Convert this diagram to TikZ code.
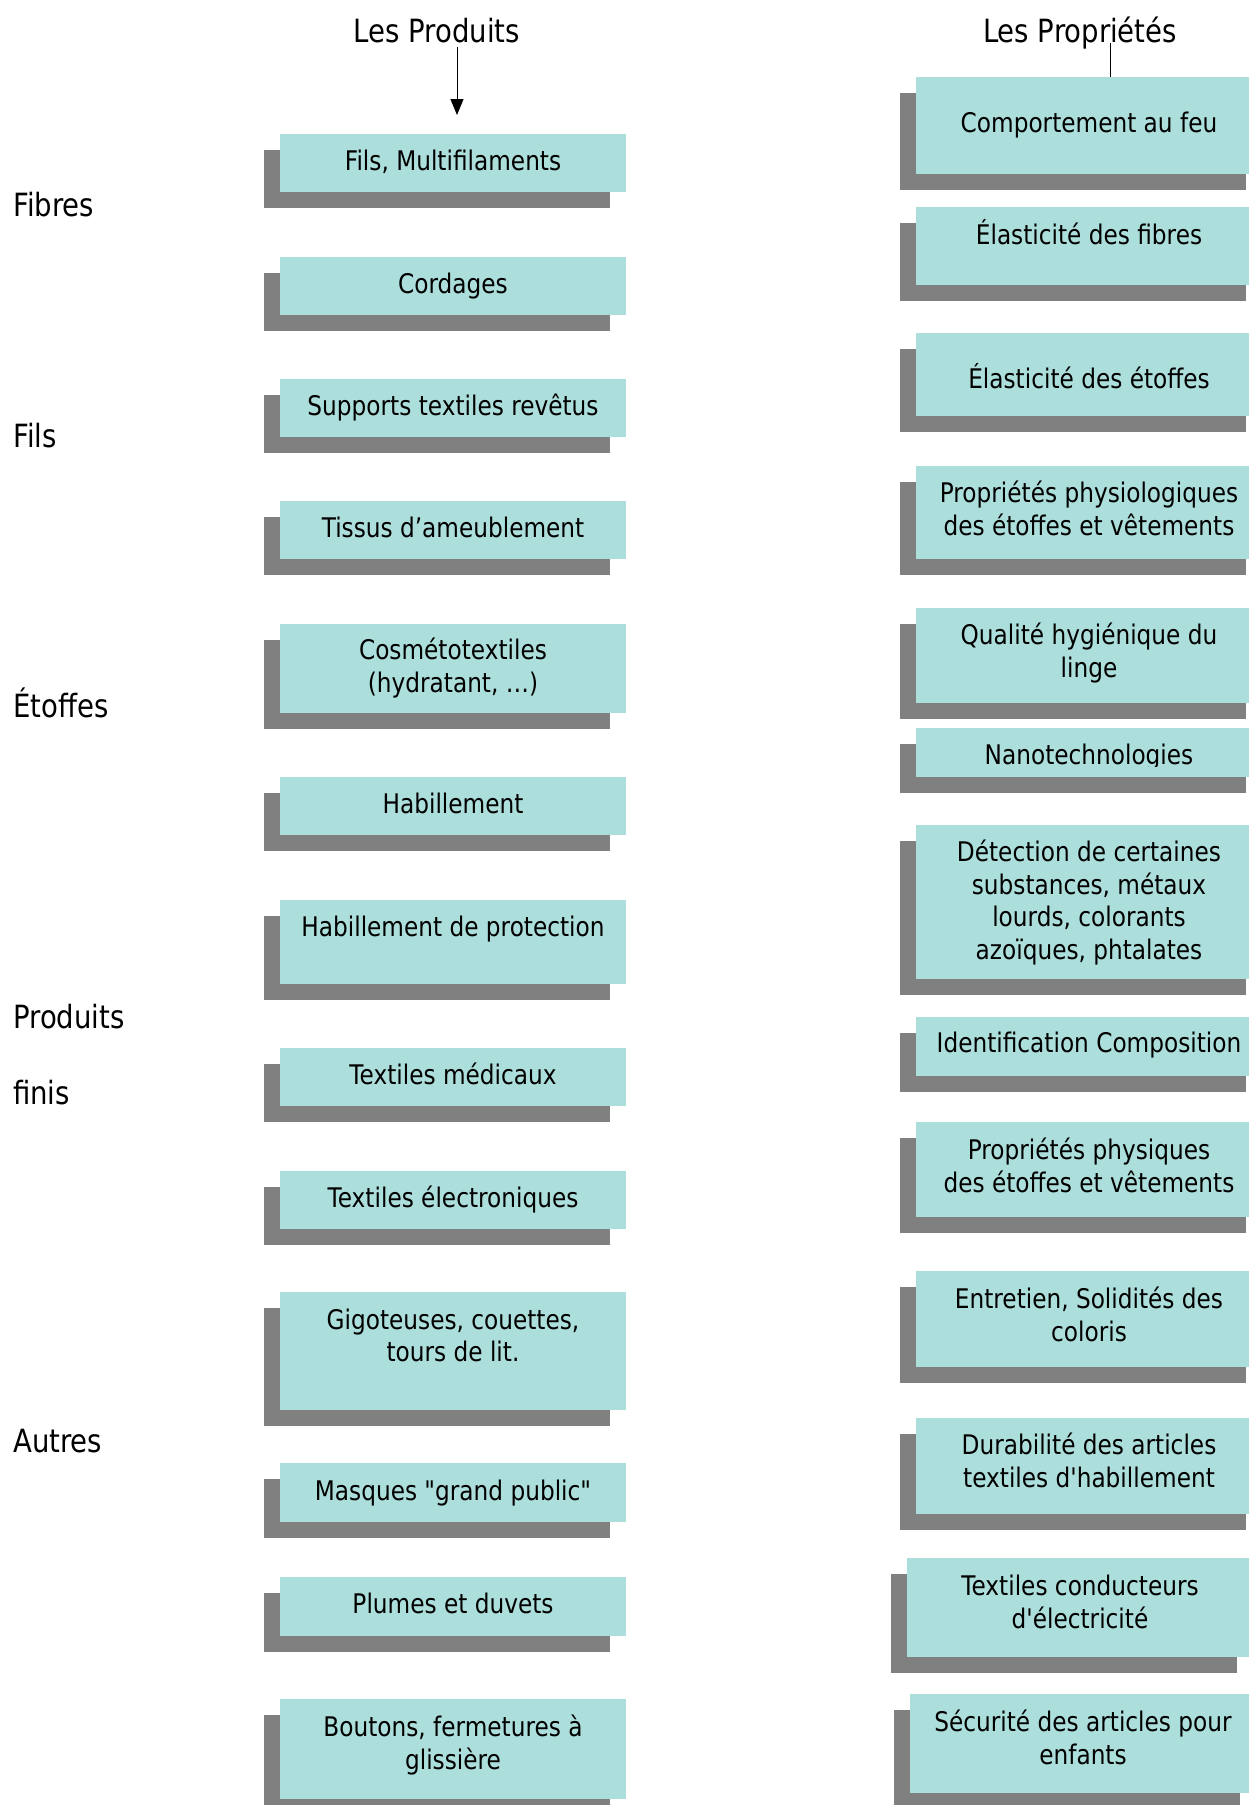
\documentclass[tikz,border=0pt]{standalone}
\usepackage{fontspec}
\newfontfamily\diagfont{DejaVu Sans}[FakeStretch=0.86]
\usetikzlibrary{arrows.meta}
\definecolor{tealfill}{RGB}{172,222,219}
\definecolor{shadowgray}{RGB}{128,128,128}
\tikzset{
  boxshadow/.style={fill=shadowgray},
  tealbox/.style={rectangle, fill=tealfill, draw=none, inner sep=0pt, outer sep=0pt, anchor=north west},
  boxtext/.style={align=center, inner sep=0pt, anchor=base, font=\diagfont\fontsize{27}{32.5}\selectfont},
  cattext/.style={inner sep=0pt, anchor=base west, font=\diagfont\fontsize{32}{38}\selectfont},
  headtext/.style={inner sep=0pt, anchor=base, font=\diagfont\fontsize{32}{38}\selectfont},
  connector/.style={line width=1pt, draw=black},
}
% name, xleft, top, bottom, baseline of LAST line, text
\newcommand\pbox[6]{%
  \fill[boxshadow] (#2-16,#3+16) rectangle (#2+330,#4+16);
  \pgfmathsetmacro\myboxh{#4-#3}
  \node[tealbox, minimum width=346pt, minimum height=\myboxh pt] (#1) at (#2,#3) {};
  \node[boxtext] (#1t) at (#2+173,#5) {#6};
}
\begin{document}
\begin{tikzpicture}[x=1pt,y=-1pt]
\useasboundingbox (0,0) rectangle (1249,1805);
\clip (0,0) rectangle (1249,1805);
\fill[white] (0,0) rectangle (1249,1805);

% headers
\node[headtext] (hprod) at (437,42) {Les Produits};
\node[headtext] (hprop) at (1080,42) {Les Propriétés};

% categories
\node[cattext] (cfib) at (13,216) {Fibres};
\node[cattext] (cfil) at (13,447) {Fils};
\node[cattext] (cetof) at (13,717) {Étoffes};
\node[cattext] (cprod) at (13,1028) {Produits};
\node[cattext] (cfin) at (13,1104) {finis};
\node[cattext] (caut) at (13,1452) {Autres};

% left column
\pbox{p1}{280}{133.5}{192}{170}{Fils, Multifilaments}
\pbox{p2}{280}{257}{315}{293}{Cordages}
\pbox{p3}{280}{379}{437}{415.5}{Supports textiles revêtus}
\pbox{p4}{280}{501}{559}{537.5}{Tissus d’ameublement}
\pbox{p5}{280}{624}{713}{692}{Cosmétotextiles\\(hydratant, …)}
\pbox{p6}{280}{777}{835}{813.5}{Habillement}
\pbox{p7}{280}{900}{984}{936.5}{Habillement de protection}
\pbox{p8}{280}{1048}{1106}{1084.5}{Textiles médicaux}
\pbox{p9}{280}{1171}{1229}{1207.5}{Textiles électroniques}
\pbox{p10}{280}{1292}{1410}{1361.5}{Gigoteuses, couettes,\\tours de lit.}
\pbox{p11}{280}{1463}{1522}{1500.5}{Masques "grand public"}
\pbox{p12}{280}{1577}{1636}{1613.5}{Plumes et duvets}
\pbox{p13}{280}{1699}{1799}{1769}{Boutons, fermetures à\\glissière}

% right column
\pbox{r1}{916}{77}{174}{132.5}{Comportement au feu}
\pbox{r2}{916}{207}{285}{244.5}{Élasticité des fibres}
\pbox{r3}{916}{333}{416}{388.5}{Élasticité des étoffes}
\pbox{r4}{916}{466}{559}{535}{Propriétés physiologiques\\des étoffes et vêtements}
\pbox{r5}{916}{608}{703}{677}{Qualité hygiénique du\\linge}
% Nanotechnologies (text clipped at the bottom)
\fill[boxshadow] (900,744) rectangle (1246,793);
\node[tealbox, minimum width=346pt, minimum height=49pt] (r6) at (916,728) {};
\begin{scope}
  \clip (916,728) rectangle (1262,766);
  \node[boxtext] (r6t) at (1089,764) {Nanotechnologies};
\end{scope}
\pbox{r7}{916}{825}{979}{959}{Détection de certaines\\substances, métaux\\lourds, colorants\\azoïques, phtalates}
\pbox{r8}{916}{1017}{1076}{1052.5}{Identification Composition}
\pbox{r9}{916}{1122}{1217}{1192}{Propriétés physiques\\des étoffes et vêtements}
\pbox{r10}{916}{1271}{1367}{1341}{Entretien, Solidités des\\coloris}
\pbox{r11}{916}{1418}{1514}{1487}{Durabilité des articles\\textiles d'habillement}
\pbox{r12}{907}{1558}{1657}{1628}{Textiles conducteurs\\d'électricité}
\pbox{r13}{910}{1694}{1793}{1764}{Sécurité des articles pour\\enfants}

% connectors
\coordinate (a2) at (457,115);
\draw[connector, -{Triangle[width=13pt,length=16pt]}] ([yshift=-4pt]hprod.south -| a2) -- (a2);
\coordinate (l1) at (1110,43);
\draw[connector] (l1) -- (r1.north -| l1);
\end{tikzpicture}
\end{document}
